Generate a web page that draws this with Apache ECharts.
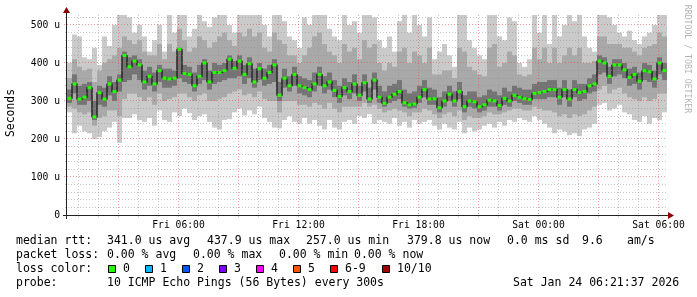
<!DOCTYPE html>
<html><head><meta charset="utf-8">
<script src="https://cdn.jsdelivr.net/npm/echarts@6/dist/echarts.min.js"></script>
<style>html,body{margin:0;padding:0;background:#fff;}#c{width:697px;height:297px;}</style>
</head><body><div id="c"></div>
<script>
// Time axis: hours since Fri 00:00
const X_MIN = 0.425, X_MAX = 30.425;
const START_HOUR = 0.55;   // first sample centre
const STEP_HOURS = 0.25;   // one sample every 15 min
const Y_MAX = 526.3;       // microseconds

const X_LABEL_HOURS = [6, 12, 18, 24, 30];
const X_LABELS = ['Fri 06:00', 'Fri 12:00', 'Fri 18:00', 'Sat 00:00', 'Sat 06:00'];

const MEDIAN = [
307,345,305,310,335,258,322,305,345,325,
355,420,390,405,395,350,365,345,380,360,
358,360,436,372,370,340,365,400,350,375,
375,380,410,386,405,370,398,350,385,360,
375,395,315,360,340,370,340,335,330,345,
370,340,350,328,312,335,325,345,315,348,
305,355,310,294,310,318,325,295,290,292,
310,330,305,306,282,300,318,300,325,285,
300,298,285,290,302,300,288,307,300,315,
310,306,304,320,322,325,330,330,310,330,
305,330,322,325,340,345,405,400,365,395,
395,382,362,370,352,380,377,358,400,380];
const MIN = [
270,215,235,220,215,200,205,220,230,245,
190,255,255,265,250,245,255,235,275,250,
245,270,260,280,268,250,260,265,245,230,
225,250,252,270,280,262,275,265,285,255,
245,230,228,250,260,245,240,255,240,250,
235,225,250,230,225,245,250,240,260,255,
265,240,250,245,240,255,235,245,230,250,
240,245,250,235,225,240,230,225,245,215,
230,220,225,235,240,230,245,235,250,245,
255,250,245,260,250,240,230,215,225,220,
210,215,208,225,230,240,290,295,275,280,
290,270,265,250,245,260,240,255,250,270];
const LO = [
285,280,270,265,270,235,255,260,275,275,
260,305,320,320,310,300,310,290,320,300,
305,310,320,320,310,300,315,320,300,300,
305,310,320,325,330,315,320,310,325,305,
300,300,270,300,300,300,290,290,285,295,
290,280,295,280,270,285,285,285,285,295,
285,290,280,270,275,280,275,270,260,270,
270,280,275,265,255,265,270,260,275,250,
260,255,255,260,270,265,265,270,275,280,
280,275,275,285,280,275,275,270,260,265,
255,265,260,265,275,285,330,340,320,330,
335,320,310,305,300,310,300,305,320,320];
const Q1 = [
295,320,290,290,300,250,290,285,315,300,
325,350,355,370,355,330,340,325,350,335,
335,340,360,350,345,325,345,355,330,345,
350,355,360,360,365,345,360,335,355,340,
345,350,300,335,325,340,320,315,310,325,
340,320,330,310,295,315,305,320,300,325,
295,330,295,285,295,300,305,285,280,282,
295,310,290,290,270,285,300,285,305,270,
285,280,270,275,285,285,275,290,285,300,
295,290,290,305,305,305,310,310,290,310,
285,310,300,305,320,325,370,375,345,365,
370,360,340,345,330,355,350,335,370,355];
const Q3 = [
330,370,340,345,350,300,340,335,365,350,
370,430,415,420,410,380,390,375,395,385,
385,380,440,395,390,375,395,410,380,400,
395,400,420,405,420,395,415,385,400,385,
395,410,350,385,365,390,365,360,355,375,
390,365,375,355,340,360,350,370,340,370,
335,375,340,325,340,345,355,330,320,325,
340,355,335,330,310,325,340,325,350,315,
325,325,310,315,330,325,315,335,325,340,
335,330,330,345,350,350,355,355,335,355,
330,355,345,345,360,370,420,415,390,410,
410,400,385,390,375,400,395,380,415,400];
const HI = [
360,410,390,380,385,350,380,400,410,420,
440,470,460,450,460,430,420,420,450,410,
450,430,490,460,430,440,470,460,440,455,
470,480,460,445,480,470,490,470,480,440,
430,480,460,450,420,420,400,420,440,470,
480,450,430,420,400,450,430,440,410,460,
440,450,400,380,400,390,430,440,400,430,
420,400,440,370,370,380,380,360,440,430,
390,380,370,365,440,450,390,400,430,420,
370,365,370,440,410,440,400,440,400,420,
440,420,440,400,400,405,470,470,450,450,
450,440,440,430,420,440,445,450,480,470];
const MAX = [
400,475,470,415,410,440,395,470,445,500,
540,540,520,480,500,470,430,460,500,430,
540,480,540,540,470,490,540,510,495,520,
540,540,500,480,540,540,540,540,540,500,
470,540,530,510,470,460,440,520,500,540,
540,530,490,470,460,540,500,510,480,540,
540,520,460,440,470,430,510,540,480,530,
500,470,520,410,430,450,420,390,540,540,
460,440,420,410,540,540,470,460,520,510,
400,390,410,540,480,540,450,540,470,500,
540,510,540,470,440,430,540,540,520,500,
480,470,485,460,450,470,480,500,540,540];

const GRID_HOURS = [];
for (let h = 1; h <= 30; h++) GRID_HOURS.push(h);
const GRID_VALUES = [];
for (let v = 20; v <= 520; v += 20) GRID_VALUES.push(v);

const LOSS_COLORS = ['#26ff00','#00b8ff','#0059ff','#7e00ff','#ff00ff','#ff5500','#ff0000','#a10000'];
const LOSS_LABELS = ['0','1','2','3','4','5','6-9','10/10'];

const MONO = "'DejaVu Sans Mono', monospace";
const smokeData = MEDIAN.map((m, i) => [START_HOUR + i * STEP_HOURS, MIN[i], LO[i], Q1[i], Q3[i], HI[i], MAX[i], m]);

function clipRect(r, cs) {
  return echarts.graphic.clipRectByRect(r, {x: cs.x, y: cs.y, width: cs.width, height: cs.height});
}
function renderSmoke(params, api) {
  const t = api.value(0);
  const xl = api.coord([t - STEP_HOURS / 2, 0])[0];
  const xr = api.coord([t + STEP_HOURS / 2, 0])[0];
  const cs = params.coordSys;
  const bands = [[1, 6, '#cacaca'], [2, 5, '#a9a9a9'], [3, 4, '#747474']];
  const children = [];
  bands.forEach(b => {
    const yt = api.coord([t, api.value(b[1])])[1];
    const yb = api.coord([t, api.value(b[0])])[1];
    const r = clipRect({x: xl, y: yt, width: xr - xl, height: yb - yt}, cs);
    if (r) children.push({type: 'rect', shape: r, style: {fill: b[2]}});
  });
  return {type: 'group', children};
}
function renderMedian(params, api) {
  const p = api.coord([api.value(0), api.value(7)]);
  return {type: 'rect', shape: {x: p[0] - 2, y: p[1] - 1.5, width: 4, height: 3}, style: {fill: '#26ff00'}};
}
function renderVGrid(params, api) {
  const h = api.value(0);
  const cs = params.coordSys;
  const x = Math.floor(api.coord([h, 0])[0]) + 0.5;
  const major = (h % 3 === 0);
  return {type: 'line', shape: {x1: x, y1: cs.y, x2: x, y2: cs.y + cs.height + (major ? 3 : 2)},
    style: {stroke: major ? 'rgba(222,80,80,0.55)' : 'rgba(143,143,143,0.5)', lineWidth: 1, lineDash: [1, 2]}};
}
function renderHGrid(params, api) {
  const v = api.value(1);
  const cs = params.coordSys;
  const y = Math.floor(api.coord([X_MIN, v])[1]) + 0.5;
  const major = (v % 100 === 0);
  return {type: 'line', shape: {x1: cs.x - (major ? 3 : 2), y1: y, x2: cs.x + cs.width, y2: y},
    style: {stroke: major ? 'rgba(222,80,80,0.55)' : 'rgba(143,143,143,0.5)', lineWidth: 1, lineDash: [1, 2]}};
}

const chart = echarts.init(document.getElementById('c'), null, {renderer: 'canvas'});

const legendLines = [
  [241.5, [[16,'median rtt:'],[107,'341.0 us avg'],[207,'437.9 us max'],[306,'257.0 us min'],[407,'379.8 us now'],[507,'0.0 ms sd'],[582,'9.6'],[627,'am/s']]],
  [255.5, [[16,'packet loss:'],[107,'0.00 % avg'],[193,'0.00 % max'],[279,'0.00 % min'],[354,'0.00 % now']]],
  [269.5, [[16,'loss color:']]],
  [283.5, [[16,'probe:'],[107,'10 ICMP Echo Pings (56 Bytes) every 300s'],[513,'Sat Jan 24 06:21:37 2026']]]
];
const graphics = [];
legendLines.forEach(([y, items]) => items.forEach(([x, s]) => graphics.push({
  type: 'text', x: x, y: y, z: 100,
  style: {text: s, font: '11.5px ' + MONO, fill: '#000', textVerticalAlign: 'middle', textAlign: 'left'}
})));
const SWATCH_X = [108, 145, 182, 219, 256, 293, 330, 382];
LOSS_LABELS.forEach((lab, i) => {
  graphics.push({type: 'rect', z: 100, shape: {x: SWATCH_X[i] + 0.5, y: 265.5, width: 7, height: 7},
    style: {fill: LOSS_COLORS[i], stroke: '#000', lineWidth: 1}});
  graphics.push({type: 'text', z: 100, x: SWATCH_X[i] + 15, y: 269.5,
    style: {text: lab, font: '11.5px ' + MONO, fill: '#000', textVerticalAlign: 'middle'}});
});
graphics.push({type: 'text', z: 100, x: 11, y: 113, rotation: Math.PI / 2,
  style: {text: 'Seconds', font: '11.4px ' + MONO, fill: '#000', textAlign: 'center', textVerticalAlign: 'middle'}});
graphics.push({type: 'text', z: 100, x: 687, y: 59, rotation: -Math.PI / 2,
  style: {text: 'RRDTOOL / TOBI OETIKER', font: '8.2px ' + MONO, fill: '#b4b4b4', textAlign: 'center', textVerticalAlign: 'middle'}});
// axes lines and arrows
graphics.push({type: 'line', z: 100, shape: {x1: 63, y1: 215.5, x2: 670, y2: 215.5}, style: {stroke: '#222', lineWidth: 1}});
graphics.push({type: 'line', z: 100, shape: {x1: 66.5, y1: 219, x2: 66.5, y2: 11}, style: {stroke: '#222', lineWidth: 1}});
graphics.push({type: 'polygon', z: 101, shape: {points: [[668, 212], [668, 219], [674, 215.5]]}, style: {fill: '#8a0000'}});
graphics.push({type: 'polygon', z: 101, shape: {points: [[63, 13], [70, 13], [66.5, 7]]}, style: {fill: '#8a0000'}});

chart.setOption({
  animation: false,
  backgroundColor: '#ffffff',
  grid: {left: 67, right: 30, top: 15, bottom: 82, containLabel: false},
  xAxis: {
    type: 'value', min: X_MIN, max: X_MAX,
    axisLine: {show: false}, axisTick: {show: false}, splitLine: {show: false},
    axisLabel: {
      customValues: X_LABEL_HOURS,
      formatter: v => { const i = X_LABEL_HOURS.findIndex(h => Math.abs(h - v) < 1e-6); return i >= 0 ? X_LABELS[i] : ''; },
      fontFamily: MONO, fontSize: 9.7, color: '#000', margin: 5
    }
  },
  yAxis: {
    type: 'value', min: 0, max: Y_MAX, interval: 100,
    axisLine: {show: false}, axisTick: {show: false}, splitLine: {show: false},
    axisLabel: {
      formatter: v => (v === 0 ? '0' : (v % 100 === 0 && v <= 500 ? v + ' u' : '')),
      fontFamily: MONO, fontSize: 9.7, color: '#000', margin: 7
    }
  },
  series: [
    {type: 'custom', name: 'smoke', z: 1, data: smokeData, encode: {x: 0, y: [1, 2, 3, 4, 5, 6, 7]}, renderItem: renderSmoke},
    {type: 'line', name: 'median link', z: 2, step: 'middle', symbol: 'none', data: smokeData.map(d => [d[0], d[7]]),
      lineStyle: {color: '#262626', width: 1.5}},
    {type: 'custom', name: 'vgrid', z: 3, silent: true, data: GRID_HOURS.map(h => [h, 0]), encode: {x: 0, y: 1}, renderItem: renderVGrid},
    {type: 'custom', name: 'hgrid', z: 3, silent: true, data: GRID_VALUES.map(v => [X_MIN, v]), encode: {x: 0, y: 1}, renderItem: renderHGrid},
    {type: 'custom', name: 'median', z: 4, data: smokeData, encode: {x: 0, y: 7}, renderItem: renderMedian}
  ],
  graphic: graphics
});
</script>
</body></html>
